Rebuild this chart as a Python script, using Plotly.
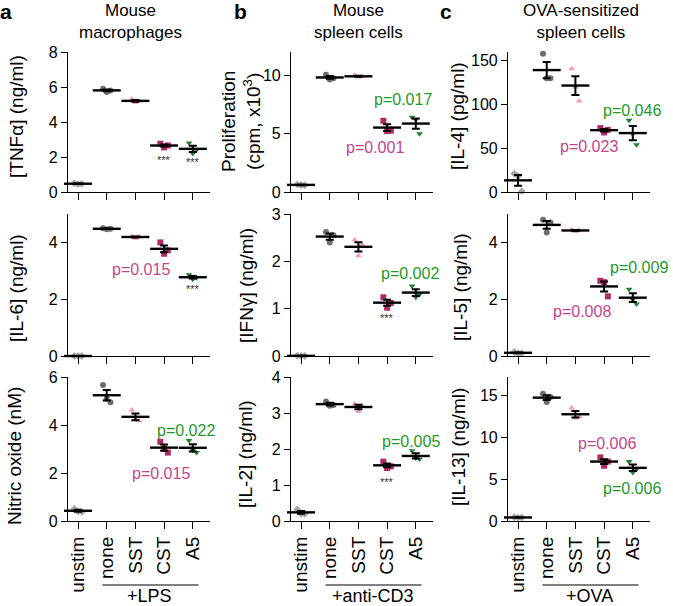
import numpy as np
import plotly.graph_objects as go

W, H = 673, 606

categories = ["unstim", "none", "SST", "CST", "A5"]

# a: mouse macrophages
tnf = [[0.50, 0.45, 0.47], [5.90, 5.72, 5.80], [5.30, 5.12, 5.20], [2.76, 2.55, 2.66], [2.80, 2.20, 2.40]]
il6 = [[0.0, 0.0, 0.0], [4.50, 4.46, 4.48], [4.22, 4.15, 4.20], [4.00, 3.60, 3.72], [2.86, 2.70, 2.76]]
nitric_oxide = [[0.50, 0.40, 0.38], [5.67, 5.10, 4.95], [4.62, 4.22, 4.18], [3.30, 3.02, 2.85], [3.35, 2.95, 2.85]]
# b: mouse spleen cells
proliferation = [[0.65, 0.60, 0.58], [10.05, 9.65, 9.75], [10.00, 9.85, 9.90], [6.10, 5.22, 5.25], [6.40, 6.20, 5.00]]
ifng = [[0.01, 0.0, 0.0], [2.62, 2.40, 2.55], [2.45, 2.12, 2.35], [1.24, 1.02, 1.12], [1.48, 1.24, 1.30]]
il2 = [[0.32, 0.20, 0.20], [3.32, 3.20, 3.22], [3.25, 3.05, 3.20], [1.65, 1.47, 1.52], [1.95, 1.75, 1.72]]
# c: OVA-sensitized spleen cells
il4 = [[21, 18, 1], [158, 130, 130], [141, 120, 104], [73, 68, 71], [82, 66, 54]]
il5 = [[0.14, 0.10, 0.10], [4.80, 4.35, 4.70], [4.45, 4.38, 4.43], [2.65, 2.60, 2.10], [2.35, 1.98, 1.83]]
il13 = [[0.45, 0.40, 0.42], [15.2, 14.2, 14.8], [13.5, 12.3, 12.45], [7.6, 6.6, 7.1], [7.1, 5.8, 6.15]]

symbols = ["diamond", "circle", "triangle-up", "square", "triangle-down"]
colors = ["#a6a6a6", "#6e6e6e", "#f29ac8", "#b02a67", "#23803c"]
jitter = [-0.13, 0.0, 0.13]
PINK, GREEN = "#c4468e", "#1f9a2a"
FONT = "Arial, Liberation Sans, sans-serif"

# pixel boxes of the plot areas
cols_px = [(68, 210), (291, 433), (508, 650)]
rows_px = [(52, 192), (214, 356), (377, 521)]

def px_x(p):
    return p / W

def px_y(p):
    return 1 - p / H

# (data, row, col, y range, y ticks, y title, title px position)
panels = [
    (tnf, 0, 0, [0, 8], [0, 2, 4, 6, 8], "[TNFα] (ng/ml)", (17, 117)),
    (proliferation, 0, 1, [0, 12], [0, 5, 10], "Proliferation<br>(cpm, x10<sup>3</sup>)", (241, 122)),
    (il4, 0, 2, [0, 160], [0, 50, 100, 150], "[IL-4] (pg/ml)", (458, 116)),
    (il6, 1, 0, [0, 5], [0, 2, 4], "[IL-6] (ng/ml)", (16, 288)),
    (ifng, 1, 1, [0, 3], [0, 1, 2, 3], "[IFNγ] (ng/ml)", (246, 285)),
    (il5, 1, 2, [0, 5], [0, 2, 4], "[IL-5] (ng/ml)", (460, 287)),
    (nitric_oxide, 2, 0, [0, 6], [0, 2, 4, 6], "Nitric oxide (nM)", (14, 456)),
    (il2, 2, 1, [0, 4], [0, 1, 2, 3, 4], "[IL-2] (ng/ml)", (245, 454)),
    (il13, 2, 2, [0, 17.2], [0, 5, 10, 15], "[IL-13] (ng/ml)", (458, 447)),
]

fig = go.Figure()
annotations = []
shapes = []

for k, (data, r, c, yr, yt, ytitle, tpos) in enumerate(panels):
    n = k + 1
    xa, ya = f"x{n}", f"y{n}"
    for i, vals in enumerate(data):
        fig.add_trace(go.Scatter(
            x=[i + j for j in jitter[:len(vals)]], y=vals, xaxis=xa, yaxis=ya,
            mode="markers", cliponaxis=False, showlegend=False,
            marker=dict(symbol=symbols[i], color=colors[i], size=6),
        ))
    means = [float(np.mean(v)) for v in data]
    sems = [float(np.std(v, ddof=1) / np.sqrt(len(v))) for v in data]
    fig.add_trace(go.Scatter(
        x=list(range(len(categories))), y=means, xaxis=xa, yaxis=ya,
        mode="markers", cliponaxis=False, showlegend=False,
        marker=dict(symbol="line-ew", size=20, line=dict(width=2.4, color="black")),
        error_y=dict(type="data", array=sems, color="black", thickness=2, width=4),
    ))
    x0, x1 = cols_px[c]
    y0, y1 = rows_px[r]
    fig.layout[f"xaxis{n}" if n > 1 else "xaxis"] = dict(
        domain=[px_x(x0), px_x(x1)], anchor=ya, range=[-0.35, 4.6],
        tickvals=list(range(5)), ticktext=categories, showticklabels=(r == 2),
        tickangle=-90, ticks="outside", ticklen=7, tickwidth=1.2, tickcolor="black",
        showline=True, linecolor="black", linewidth=1.2, showgrid=False, zeroline=False,
        automargin=False, tickfont=dict(size=19, color="black", family=FONT),
    )
    fig.layout[f"yaxis{n}" if n > 1 else "yaxis"] = dict(
        domain=[px_y(y1), px_y(y0)], anchor=xa, range=yr, tickvals=yt,
        ticks="outside", ticklen=6, tickwidth=1.2, tickcolor="black",
        showline=True, linecolor="black", linewidth=1.2, showgrid=False, zeroline=False,
        automargin=False, tickfont=dict(size=16, color="black", family=FONT),
    )
    annotations.append(dict(
        text=ytitle, x=px_x(tpos[0]), y=px_y(tpos[1]), xref="paper", yref="paper",
        xanchor="center", yanchor="middle",
        textangle=-90, showarrow=False, font=dict(size=19, color="black", family=FONT),
    ))

# p-values and stars: (axis no, x, y, text, colour, size)
notes = [
    (4, 2.18, 3.03, "p=0.015", PINK, 16),
    (7, 3.75, 3.77, "p=0.022", GREEN, 16),
    (7, 2.88, 1.96, "p=0.015", PINK, 16),
    (2, 3.54, 7.9, "p=0.017", GREEN, 16),
    (2, 2.58, 3.8, "p=0.001", PINK, 16),
    (5, 3.81, 1.75, "p=0.002", GREEN, 16),
    (8, 3.83, 2.22, "p=0.005", GREEN, 16),
    (3, 3.96, 93, "p=0.046", GREEN, 16),
    (3, 2.46, 52, "p=0.023", PINK, 16),
    (6, 4.2, 3.12, "p=0.009", GREEN, 16),
    (6, 2.24, 1.57, "p=0.008", PINK, 16),
    (9, 3.09, 9.28, "p=0.006", PINK, 16),
    (9, 3.96, 3.86, "p=0.006", GREEN, 16),
    (1, 3.0, 1.84, "***", "#333333", 11),
    (1, 4.0, 1.70, "***", "#333333", 11),
    (4, 4.0, 2.35, "***", "#333333", 11),
    (5, 3.0, 0.81, "***", "#333333", 11),
    (8, 3.0, 1.08, "***", "#333333", 11),
]
for n, x, y, t, col, sz in notes:
    annotations.append(dict(
        text=t, x=x, y=y, xref=f"x{n}", yref=f"y{n}", showarrow=False,
        xanchor="center", yanchor="middle",
        font=dict(size=sz, color=col, family=FONT),
    ))

# stimulation brackets under the bottom row
for n, label in [(7, "+LPS"), (8, "+anti-CD3"), (9, "+OVA")]:
    shapes.append(dict(type="line", xref=f"x{n}", yref="paper", x0=0.85, x1=4.2,
                       y0=px_y(585), y1=px_y(585), line=dict(color="black", width=1.2)))
    annotations.append(dict(text=label, x=2.5, y=px_y(596), xref=f"x{n}", yref="paper",
                            showarrow=False, xanchor="center", yanchor="middle",
                            font=dict(size=18, color="black", family=FONT)))

# column titles and panel letters
for text, xc in [("Mouse<br>macrophages", 130), ("Mouse<br>spleen cells", 358),
                 ("OVA-sensitized<br>spleen cells", 581)]:
    annotations.append(dict(text=text, x=px_x(xc), y=px_y(21), xref="paper", yref="paper",
                            showarrow=False, xanchor="center", yanchor="middle",
                            font=dict(size=17, color="black", family=FONT)))
for text, xc in [("a", 6), ("b", 240), ("c", 446)]:
    annotations.append(dict(text=f"<b>{text}</b>", x=px_x(xc), y=px_y(11), xref="paper",
                            yref="paper", showarrow=False, xanchor="center", yanchor="middle",
                            font=dict(size=21, color="black", family=FONT)))

fig.update_layout(
    width=W, height=H, margin=dict(l=0, r=0, t=0, b=0, autoexpand=False),
    paper_bgcolor="white", plot_bgcolor="white",
    annotations=annotations, shapes=shapes, showlegend=False,
    font=dict(family=FONT, color="black"),
)

# the page body has a default 8px margin; drop it so the figure fills the window
fig.write_html("out.html", config={"displayModeBar": False},
               post_script="document.body.style.margin='0';")
